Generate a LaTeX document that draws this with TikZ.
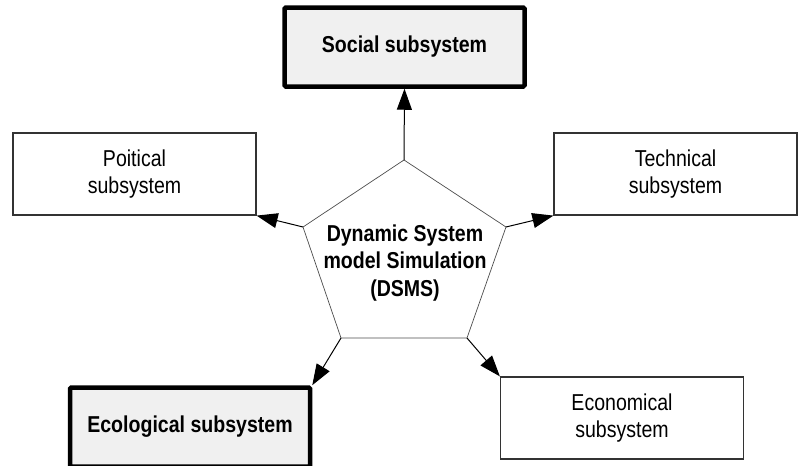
\documentclass[tikz,border=0pt]{standalone}
\usepackage{fontspec}
\setmainfont{Liberation Sans}[FakeStretch=0.85]
\usetikzlibrary{arrows.meta}
\definecolor{boxgray}{HTML}{F0F0F0}
\tikzset{
  thinbox/.style={draw=black!80, line width=1.2pt, fill=white, inner sep=0pt,
    minimum width=243pt, minimum height=82pt, align=center,
    font=\fontsize{23}{27.5}\selectfont},
  thickbox/.style={draw=black, line width=4.5pt, fill=boxgray, inner sep=0pt,
    rounded corners=1.2pt, minimum width=240pt, minimum height=79pt, align=center,
    font=\bfseries\fontsize{23}{27.5}\selectfont},
  link/.style={draw=black, line width=1pt, -{Triangle[length=21pt,width=15pt]}},
  pentline/.style={draw=black!70, line width=0.7pt, line join=miter},
}
\begin{document}
\begin{tikzpicture}[x=1pt,y=-1pt]
\useasboundingbox (0,0) rectangle (801,466);
% boxes
\node[thickbox] (soc) at (404.5,47) {Social subsystem};
\node[thinbox] (pol) at (134.5,174) {Poitical\\subsystem};
\node[thinbox] (tec) at (675.5,174) {Technical\\subsystem};
\node[thickbox] (eco) at (190,427) {Ecological subsystem};
\node[thinbox] (econ) at (622,418) {Economical\\subsystem};
% pentagon
\coordinate (pt) at (404,160);
\coordinate (pul) at (303,227);
\coordinate (pur) at (506,227);
\coordinate (pbl) at (341,338);
\coordinate (pbr) at (467,338);
\draw[pentline] (pt) -- (pur) -- (pbr) -- (pbl) -- (pul) -- cycle;
\node[align=center, font=\bfseries\fontsize{23}{27.5}\selectfont] (dsms) at (405,263)
  {Dynamic System\\model Simulation\\(DSMS)};
% arrows
\draw[link] (pt) -- (soc.south);
\draw[link] (pul) -- (pol.south east);
\draw[link] (pur) -- (tec.south west);
\draw[link] (pbl) -- (eco.north east);
\draw[link] (pbr) -- (econ.north west);
\end{tikzpicture}
\end{document}
